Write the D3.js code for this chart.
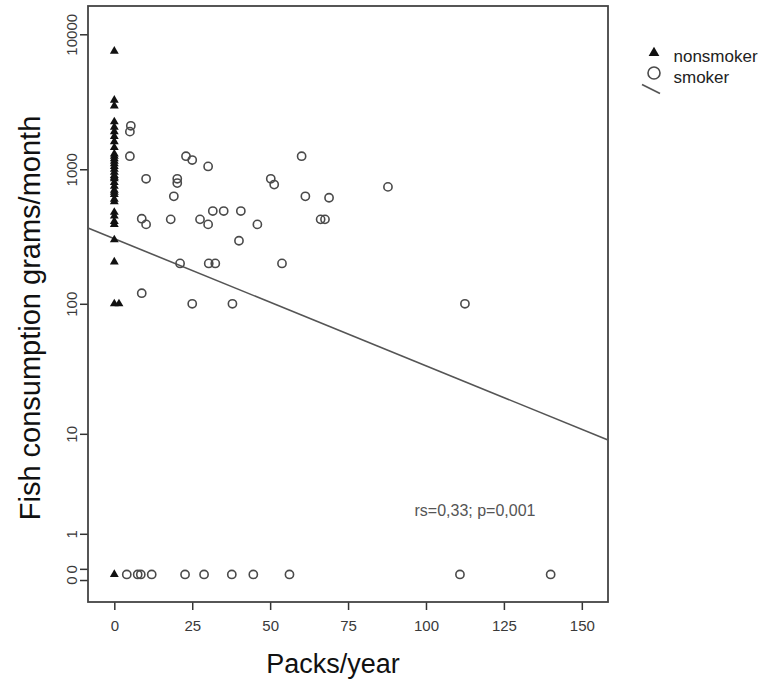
<!DOCTYPE html>
<html>
<head>
<meta charset="utf-8">
<script src="https://cdn.jsdelivr.net/npm/d3@7"></script>
<style>
  body { margin: 0; background: #fff; }
  svg { display: block; font-family: "Liberation Sans", Arial, sans-serif; }
</style>
</head>
<body>
<svg id="chart" width="766" height="683"></svg>
<script>

// nonsmokers all sit at 0 packs/year (one at 1.5)
const nonsmokerPacks = [0, 0, 0, 0, 0, 0, 0, 0, 0,
  0, 0, 0, 0, 0, 0, 0, 0, 0, 0, 0, 0, 0, 0, 0, 0, 0, 0,
  0, 0, 0, 0, 0, 0, 0, 1.5, 0]
const nonsmokerFish = [7500, 3250, 2950, 2250, 2050, 1900, 1750, 1600, 1450,
  1300, 1250, 1200, 1150, 1100, 1050, 1000, 950, 900, 875, 850, 800, 750, 700, 675, 650, 600, 575,
  480, 450, 410, 390, 300, 205, 100, 100, 0]

const smokerPacks = [5.3, 5.0, 5.0, 10.2, 20.2, 20.2, 19.1, 23.0, 25.0, 30.1,
  8.8, 10.2, 18.1, 27.5, 30.1, 31.6, 35.1, 40.6, 45.9, 40.0,
  21.1, 30.3, 32.4, 53.8, 8.8, 25.0, 37.9, 60.1, 50.2, 51.3,
  61.3, 68.9, 66.2, 67.6, 87.8, 112.5,
  4, 7.5, 8.5, 12, 22.7, 28.8, 37.7, 44.6, 56.2, 110.9, 140]
const smokerFish = [2100, 1900, 1250, 850, 850, 790, 630, 1250, 1170, 1050,
  430, 390, 425, 425, 390, 490, 490, 490, 390, 295,
  200, 200, 200, 200, 120, 100, 100, 1250, 850, 770,
  630, 615, 425, 425, 740, 100,
  0, 0, 0, 0, 0, 0, 0, 0, 0, 0, 0]

// log10(fish+1) = a + b*packs
const fitCoef = [2.486, -0.00941]

const xTicks = [0, 25, 50, 75, 100, 125, 150]
const yTicks = [10000, 1000, 100, 10, 1, 0.1, -0.1]

const legendLabels = ["nonsmoker", "smoker"]
const statText = "rs=0,33; p=0,001"

const margin = {left: 88, top: 6}
const width = 520
const height = 596

const svg = d3.select("#chart")
const g = svg.append("g").attr("transform", `translate(${margin.left},${margin.top})`)

let x = d3.scaleLinear().domain([-8.44, 158.4]).range([0, width])
// log(y+1) axis so the zeros still get a row
let y = d3.scaleSymlog().constant(1).domain([-0.6, 16200]).range([height, 0])

// x axis
let xAxis = g.append("g")
  .attr("transform", `translate(0,${height})`)
  .call(d3.axisBottom(x).tickValues(xTicks).tickSize(8).tickPadding(10))
xAxis.select(".domain").remove()
xAxis.selectAll("line").attr("stroke", "#333").attr("stroke-width", 1.5)
xAxis.selectAll("text")
  .attr("fill", "#3a3a3a")
  .style("font-size", "15px")
  .style("font-family", "Liberation Sans, Arial, sans-serif")

// y axis, labels turned on their side
let yAxis = g.append("g")
  .call(d3.axisLeft(y).tickValues(yTicks).tickSize(8)
    .tickFormat(d => d < 1 ? "0" : String(d)))
yAxis.select(".domain").remove()
yAxis.selectAll("line").attr("stroke", "#333").attr("stroke-width", 1.5)
yAxis.selectAll("text")
  .attr("transform", "rotate(-90)")
  .attr("x", 0)
  .attr("y", -11.5)
  .attr("dy", 0)
  .attr("text-anchor", "middle")
  .attr("fill", "#3a3a3a")
  .style("font-size", "15px")
  .style("font-family", "Liberation Sans, Arial, sans-serif")

// frame
g.append("rect")
  .attr("x", 0).attr("y", 0)
  .attr("width", width).attr("height", height)
  .attr("fill", "none")
  .attr("stroke", "#444")
  .attr("stroke-width", 1.8)

// fit line across the whole frame
let [x0, x1] = x.domain()
let fitY = v => Math.pow(10, fitCoef[0] + fitCoef[1] * v) - 1
g.append("line")
  .attr("x1", x(x0)).attr("y1", y(fitY(x0)))
  .attr("x2", x(x1)).attr("y2", y(fitY(x1)))
  .attr("stroke", "#555")
  .attr("stroke-width", 1.6)

// smokers: open circles
g.append("g").selectAll("circle")
  .data(smokerPacks.map((p, i) => [p, smokerFish[i]]))
  .join("circle")
  .attr("cx", d => x(d[0]))
  .attr("cy", d => y(d[1]))
  .attr("r", 4.1)
  .attr("fill", "none")
  .attr("stroke", "#4a4a4a")
  .attr("stroke-width", 1.6)

// nonsmokers: filled triangles
let tri = d3.symbol().type(d3.symbolTriangle).size(34)
g.append("g").selectAll("path")
  .data(nonsmokerPacks.map((p, i) => [p, nonsmokerFish[i]]))
  .join("path")
  .attr("d", tri)
  .attr("transform", d => `translate(${x(d[0])},${y(d[1])})`)
  .attr("fill", "#111")

// stats note
svg.append("text")
  .attr("x", 475).attr("y", 516)
  .attr("text-anchor", "middle")
  .attr("fill", "#555")
  .style("font-size", "16px")
  .text(statText)

// axis titles
svg.append("text")
  .attr("x", 333).attr("y", 673)
  .attr("text-anchor", "middle")
  .attr("fill", "#111")
  .style("font-size", "27px")
  .text("Packs/year")

svg.append("text")
  .attr("transform", "translate(40,318) rotate(-90)")
  .attr("text-anchor", "middle")
  .attr("fill", "#111")
  .style("font-size", "29px")
  .text("Fish consumption grams/month")

// legend
let legend = svg.append("g")
legend.append("path")
  .attr("d", d3.symbol().type(d3.symbolTriangle).size(50))
  .attr("transform", "translate(654,53)")
  .attr("fill", "#111")
legend.append("circle")
  .attr("cx", 654).attr("cy", 73).attr("r", 6)
  .attr("fill", "none")
  .attr("stroke", "#4a4a4a")
  .attr("stroke-width", 1.6)
legend.append("line")
  .attr("x1", 642).attr("y1", 84.5)
  .attr("x2", 660).attr("y2", 93.5)
  .attr("stroke", "#555")
  .attr("stroke-width", 1.6)
legend.selectAll("text.lbl")
  .data(legendLabels)
  .join("text")
  .attr("class", "lbl")
  .attr("x", 673.5)
  .attr("y", (d, i) => 61.5 + i * 21.8)
  .attr("fill", "#222")
  .style("font-size", "17px")
  .text(d => d)

</script>
</body>
</html>
